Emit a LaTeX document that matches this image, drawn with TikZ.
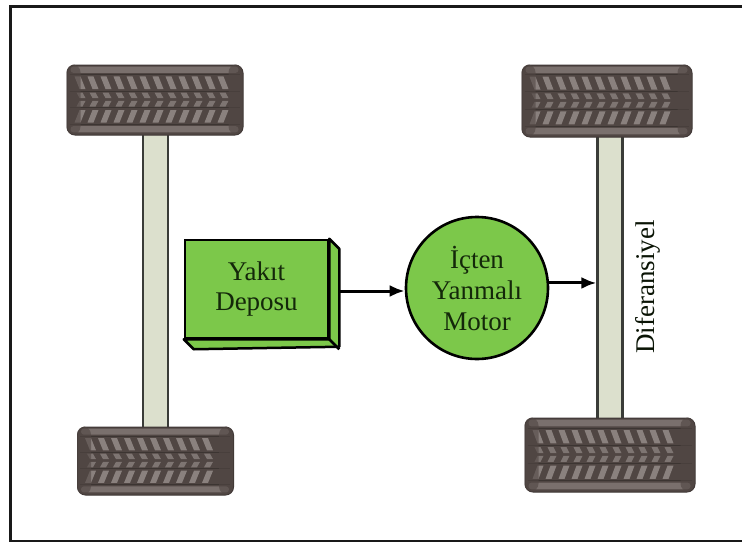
\documentclass[tikz,border=0pt]{standalone}
\usepackage{fontspec}
\setmainfont{Liberation Serif}
\usetikzlibrary{arrows.meta,calc}

\definecolor{tyredark}{RGB}{80,70,67}
\definecolor{tyremid}{RGB}{122,112,109}
\definecolor{tread}{RGB}{138,129,126}
\definecolor{axlefill}{RGB}{220,224,205}
\definecolor{axleedge}{RGB}{58,60,56}
\definecolor{boxgreen}{RGB}{124,200,74}
\definecolor{labelink}{RGB}{20,40,10}
\definecolor{framegray}{RGB}{25,25,25}

\tikzset{
  tyrebox/.style={draw=tyredark!80!black, line width=1pt, fill=tyredark,
    rounded corners=8pt, inner sep=0pt},
  axlebar/.style={draw=axleedge, line width=2.2pt, fill=axlefill,
    minimum width=25pt, inner sep=0pt},
  tankbox/.style={draw=black, line width=2.5pt, fill=boxgreen,
    minimum width=143pt, minimum height=98pt, inner sep=0pt,
    align=center, text=labelink, font=\fontsize{27}{30}\selectfont},
  tankface/.style={draw=black, line width=2.5pt, fill=boxgreen, line join=round},
  enginecirc/.style={circle, draw=black, line width=2.6pt, fill=boxgreen,
    minimum size=142pt, inner sep=0pt, align=center, text=labelink,
    font=\fontsize{27}{31}\selectfont},
  flow/.style={draw=black, line width=3pt, -{Latex[length=15pt,width=12pt]}},
  sidelabel/.style={rotate=90, text=labelink!50!black,
    font=\fontsize{27}{30}\selectfont},
}

% tyre: name, centre x, centre y, width, height
\newcommand\tyre[5]{%
  \node[tyrebox, minimum width=#4pt, minimum height=#5pt] (#1) at (#2,#3) {};
  \begin{scope}[shift={(#1.north west)}]
    \pgfmathsetmacro\tw{#4}\pgfmathsetmacro\th{#5}
    % light rims along the top and bottom edges
    \fill[tyremid, rounded corners=3pt] (4,0.03*\th) rectangle (\tw-4,0.12*\th);
    \fill[tyremid, rounded corners=3pt] (4,0.88*\th) rectangle (\tw-4,0.97*\th);
    % upper and lower tread rows
    \foreach \sx in {8,21,...,\numexpr#4-20\relax}{
      \fill[tread] (\sx,0.17*\th) -- (\sx+6,0.17*\th) -- (\sx+11,0.35*\th) -- (\sx+5,0.35*\th) -- cycle;
      \fill[tread] (\sx+5,0.65*\th) -- (\sx+11,0.65*\th) -- (\sx+6,0.83*\th) -- (\sx,0.83*\th) -- cycle;
    }
    % centre chevrons
    \foreach \sx in {10,23,...,\numexpr#4-20\relax}{
      \fill[tread!80!tyredark] (\sx,0.40*\th) -- (\sx+6,0.40*\th) -- (\sx+9,0.48*\th) -- (\sx+3,0.48*\th) -- cycle;
      \fill[tread!80!tyredark] (\sx+3,0.52*\th) -- (\sx+9,0.52*\th) -- (\sx+6,0.60*\th) -- (\sx,0.60*\th) -- cycle;
    }
    % groove lines
    \draw[tyredark!75!black, line width=1pt] (3,0.145*\th) -- (\tw-3,0.145*\th)
      (3,0.855*\th) -- (\tw-3,0.855*\th) (3,0.38*\th) -- (\tw-3,0.38*\th)
      (3,0.62*\th) -- (\tw-3,0.62*\th);
    % darker shoulders at both ends
    \fill[tyredark, opacity=0.6, rounded corners=8pt] (0,0) rectangle (14,\th);
    \fill[tyredark, opacity=0.6, rounded corners=8pt] (\tw-14,0) rectangle (\tw,\th);
  \end{scope}
}

\begin{document}
\begin{tikzpicture}[x=1pt, y=-1pt]
  \useasboundingbox (0,0) rectangle (742,544);
  \fill[white] (0,0) rectangle (742,544);

  % outer frame
  \draw[framegray, line width=2.2pt] (742,6.5) -- (10.5,6.5) -- (10.5,541) -- (742,541);

  % axles
  \node[axlebar, minimum height=300pt] (axleL) at (155.5,280) {};
  \node[axlebar, minimum height=290pt] (axleR) at (610,277) {};

  % tyres
  \tyre{tyreTL}{155}{100}{176}{70}
  \tyre{tyreBL}{155.5}{461}{156}{68}
  \tyre{tyreTR}{607}{101}{170}{72}
  \tyre{tyreBR}{610}{455}{170}{74}

  % fuel tank with its 3D faces
  \node[tankbox] (depo) at (256.5,289) {Yakıt\\Deposu};
  \draw[tankface] (depo.north east) -- ++(10,10) -- ++(0,98) -- ($(depo.south west)+(10,10)$)
    -- (depo.south west) -- (depo.south east) -- cycle;
  \draw[black, line width=2.5pt] (depo.south east) -- ++(10,10);
  \coordinate (tankout) at ($(depo.east)+(10,2)$);

  % engine
  \node[enginecirc] (motor) at (477,288) {İçten\\Yanmalı\\Motor};

  % flows
  \draw[flow] (tankout) -- (motor.west |- tankout);
  \draw[flow] (motor.4) -- (axleR.west |- motor.4);

  % differential label
  \node[sidelabel] (dif) at (648,287) {Diferansiyel};
\end{tikzpicture}
\end{document}
